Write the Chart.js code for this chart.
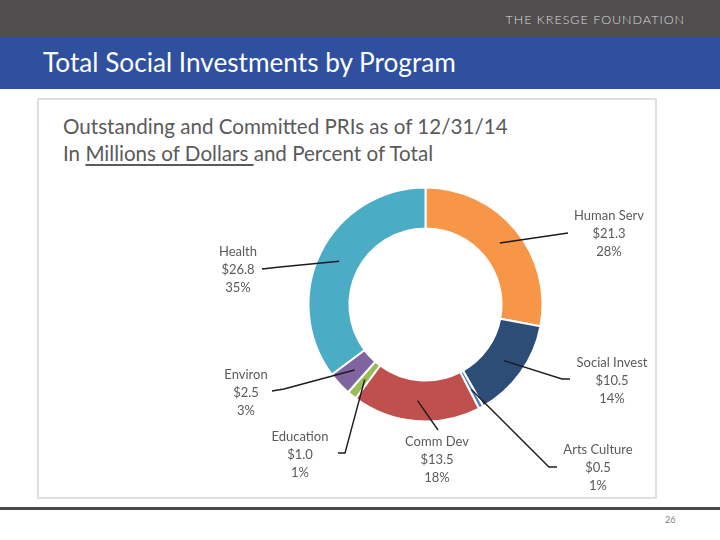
<!DOCTYPE html>
<html>
<head>
<meta charset="utf-8">
<script src="https://cdn.jsdelivr.net/npm/chart.js@4/dist/chart.umd.min.js"></script>
<style>
  html, body { margin: 0; padding: 0; background: #ffffff; }
  body { width: 720px; height: 540px; position: relative; overflow: hidden; font-family: Lato, "Open Sans", sans-serif; }
  .topbar { position: absolute; left: 0; top: 0; width: 720px; height: 37px; background: #504e4f; }
  .brand { position: absolute; right: 35px; top: 12px; color: #dcdcdc; font-size: 12.5px; font-weight: 300; letter-spacing: 1px; }
  .band { position: absolute; left: 0; top: 37px; width: 720px; height: 52px; background: #2f509e; }
  .band h1 { position: absolute; left: 43px; top: 9px; margin: 0; color: #ffffff; font-weight: 400; font-size: 26.2px; letter-spacing: 0; }
  .box { position: absolute; left: 37px; top: 98px; width: 616px; height: 397px; border: 2px solid #e0e0e0; }
  .subtitle { position: absolute; left: 63px; top: 113px; color: #5a5a5a; font-size: 20.6px; line-height: 26.5px; letter-spacing: 0; }
  .subtitle u { text-decoration-thickness: 2px; text-underline-offset: 3px; }
  .rule { position: absolute; left: 0; top: 507px; width: 720px; height: 3px; background: #4a4a4a; }
  .page { position: absolute; left: 665px; top: 514px; color: #808080; font-size: 9px; }
  canvas { position: absolute; left: 0; top: 0; }
</style>
</head>
<body>
<div class="topbar"><div class="brand">THE KRESGE FOUNDATION</div></div>
<div class="band"><h1>Total Social Investments by Program</h1></div>
<div class="box"></div>
<div class="subtitle">Outstanding and Committed PRIs as of 12/31/14<br>In <u>Millions of Dollars </u>and Percent of Total</div>
<div class="rule"></div>
<div class="page">26</div>
<canvas id="chart" width="720" height="540"></canvas>
<script>
// data, clockwise from 12 o'clock
const programs = ['Human Serv', 'Social Invest', 'Arts Culture', 'Comm Dev', 'Education', 'Environ', 'Health'];
const amounts = [21.3, 10.5, 0.5, 13.5, 1.0, 2.5, 26.8];
const colors = ['#f79646', '#2c4d75', '#4f81bd', '#c0504d', '#9bbb59', '#8064a2', '#4bacc6'];

// label placement (page px): text centre x, first line y, leader path after the slice point
const labelLayout = [
  { x: 609, y: 216, path: [[568, 233]] },
  { x: 612, y: 363, path: [[562, 379], [570, 379]] },
  { x: 598, y: 450, path: [[549, 467], [557, 467]] },
  { x: 437, y: 442, path: [[438, 430]] },
  { x: 300, y: 437, path: [[345, 453], [338, 453]] },
  { x: 246, y: 375, path: [[284, 389], [272, 391]] },
  { x: 238, y: 252, path: [[280, 267], [262, 269]] }
];

const total = amounts.reduce((a, b) => a + b, 0);

const leaderLabels = {
  id: 'leaderLabels',
  afterDatasetsDraw(chart) {
    const ctx = chart.ctx;
    const arcs = chart.getDatasetMeta(0).data;
    ctx.save();
    arcs.forEach((arc, i) => {
      const layout = labelLayout[i];
      const start = arc.getCenterPoint();
      ctx.beginPath();
      ctx.moveTo(start.x, start.y);
      layout.path.forEach(([px, py]) => ctx.lineTo(px, py));
      ctx.strokeStyle = '#1c1c1c';
      ctx.lineWidth = 1.4;
      ctx.stroke();

      const pct = Math.round((amounts[i] / total) * 100) + '%';
      const lines = [programs[i], '$' + amounts[i].toFixed(1), pct];
      ctx.fillStyle = '#5a5a5a';
      ctx.font = '13px Lato, "Open Sans", sans-serif';
      ctx.textAlign = 'center';
      ctx.textBaseline = 'middle';
      lines.forEach((t, k) => ctx.fillText(t, layout.x, layout.y + k * 17.8));
    });
    ctx.restore();
  }
};

new Chart(document.getElementById('chart'), {
  type: 'doughnut',
  data: {
    labels: programs,
    datasets: [{
      data: amounts,
      backgroundColor: colors,
      borderColor: '#ffffff',
      borderWidth: 2
    }]
  },
  options: {
    responsive: false,
    animation: false,
    cutout: '65%',
    layout: { padding: { left: 307.5, right: 176.5, top: 186.5, bottom: 117.5 } },
    plugins: {
      legend: { display: false },
      tooltip: { enabled: false }
    }
  },
  plugins: [leaderLabels]
});
</script>
</body>
</html>
